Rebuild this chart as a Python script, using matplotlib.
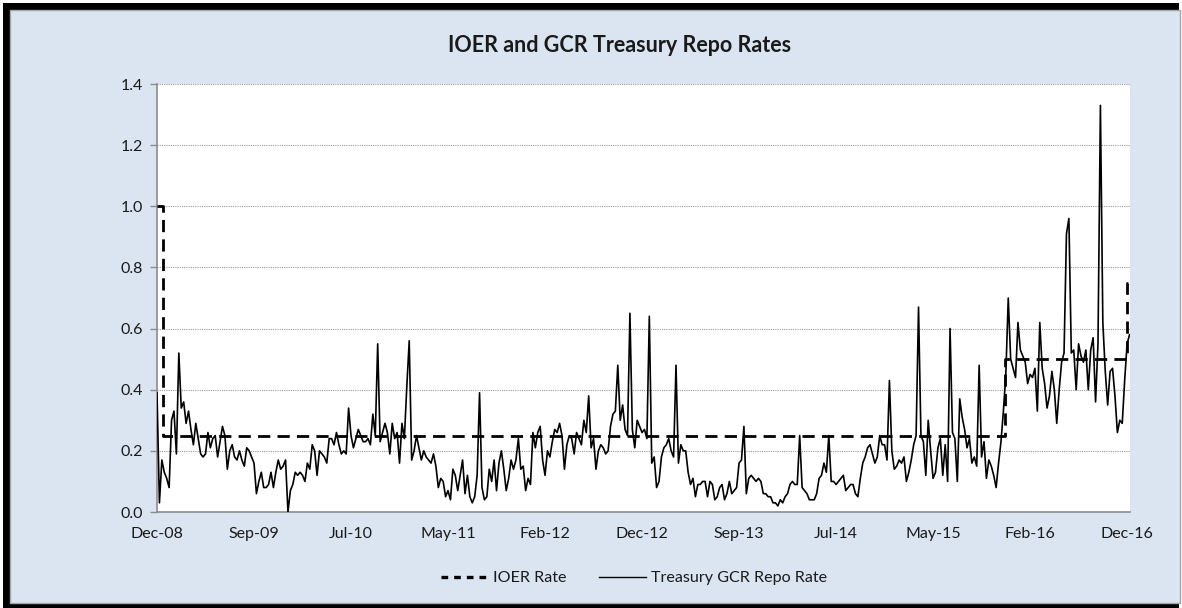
import numpy as np
import matplotlib
matplotlib.use("Agg")
import matplotlib.pyplot as plt
from matplotlib.patches import Rectangle
from matplotlib.lines import Line2D

plt.rcParams['font.family'] = ['Lato', 'DejaVu Sans']

# ---------------- data ----------------
title = "IOER and GCR Treasury Repo Rates"
tick_labels = ["Dec-08", "Sep-09", "Jul-10", "May-11", "Feb-12", "Dec-12",
               "Sep-13", "Jul-14", "May-15", "Feb-16", "Dec-16"]
tick_days = [0, 200, 400, 600, 800, 1000, 1200, 1400, 1600, 1800, 2000]  # trading-day index
step_days = 5  # spacing of GCR observations (trading days)

gcr_rate = [
    0.39, 0.03, 0.17, 0.13, 0.11, 0.08, 0.30, 0.33, 0.19, 0.52, 0.34, 0.36, 0.29, 0.33, 0.27, 0.22, 0.29, 0.24, 0.19, 0.18,
    0.19, 0.26, 0.21, 0.24, 0.25, 0.18, 0.23, 0.28, 0.25, 0.14, 0.20, 0.22, 0.18, 0.17, 0.20, 0.17, 0.15, 0.21, 0.20, 0.18,
    0.16, 0.06, 0.10, 0.13, 0.08, 0.08, 0.09, 0.13, 0.08, 0.13, 0.17, 0.14, 0.15, 0.17, 0.00, 0.07, 0.09, 0.13, 0.12, 0.13,
    0.12, 0.10, 0.16, 0.14, 0.22, 0.20, 0.12, 0.20, 0.19, 0.18, 0.16, 0.24, 0.24, 0.22, 0.26, 0.22, 0.19, 0.20, 0.19, 0.34,
    0.25, 0.21, 0.24, 0.27, 0.25, 0.23, 0.23, 0.24, 0.22, 0.32, 0.25, 0.55, 0.23, 0.26, 0.29, 0.26, 0.19, 0.29, 0.24, 0.26,
    0.16, 0.29, 0.24, 0.41, 0.56, 0.17, 0.20, 0.25, 0.21, 0.17, 0.20, 0.18, 0.17, 0.16, 0.19, 0.15, 0.08, 0.11, 0.10, 0.05,
    0.07, 0.04, 0.14, 0.12, 0.07, 0.12, 0.17, 0.06, 0.12, 0.05, 0.03, 0.05, 0.12, 0.39, 0.08, 0.04, 0.05, 0.14, 0.10, 0.17,
    0.07, 0.16, 0.20, 0.14, 0.07, 0.11, 0.17, 0.14, 0.17, 0.24, 0.14, 0.15, 0.07, 0.11, 0.09, 0.26, 0.21, 0.26, 0.28, 0.17,
    0.12, 0.20, 0.18, 0.23, 0.27, 0.26, 0.29, 0.25, 0.14, 0.22, 0.25, 0.24, 0.19, 0.26, 0.24, 0.22, 0.30, 0.26, 0.38, 0.21,
    0.24, 0.14, 0.20, 0.22, 0.21, 0.19, 0.20, 0.28, 0.32, 0.33, 0.48, 0.30, 0.35, 0.27, 0.25, 0.65, 0.27, 0.21, 0.30, 0.28,
    0.26, 0.27, 0.24, 0.64, 0.16, 0.18, 0.08, 0.10, 0.18, 0.21, 0.22, 0.24, 0.20, 0.18, 0.48, 0.16, 0.22, 0.20, 0.20, 0.13,
    0.09, 0.11, 0.05, 0.09, 0.09, 0.10, 0.10, 0.05, 0.10, 0.09, 0.04, 0.05, 0.08, 0.09, 0.04, 0.06, 0.10, 0.06, 0.07, 0.08,
    0.16, 0.17, 0.28, 0.06, 0.11, 0.12, 0.11, 0.10, 0.11, 0.10, 0.06, 0.06, 0.05, 0.05, 0.03, 0.03, 0.02, 0.04, 0.03, 0.05,
    0.06, 0.09, 0.10, 0.09, 0.09, 0.25, 0.08, 0.07, 0.06, 0.04, 0.04, 0.04, 0.06, 0.11, 0.12, 0.16, 0.13, 0.25, 0.10, 0.10,
    0.09, 0.10, 0.11, 0.12, 0.07, 0.08, 0.09, 0.09, 0.06, 0.05, 0.11, 0.16, 0.18, 0.21, 0.22, 0.19, 0.16, 0.18, 0.25, 0.22,
    0.22, 0.17, 0.43, 0.20, 0.14, 0.15, 0.17, 0.16, 0.18, 0.10, 0.13, 0.17, 0.22, 0.25, 0.67, 0.25, 0.23, 0.12, 0.30, 0.20,
    0.11, 0.13, 0.21, 0.24, 0.12, 0.22, 0.10, 0.60, 0.26, 0.24, 0.10, 0.37, 0.31, 0.27, 0.21, 0.24, 0.16, 0.18, 0.15, 0.48,
    0.18, 0.23, 0.11, 0.17, 0.15, 0.12, 0.08, 0.16, 0.23, 0.33, 0.45, 0.70, 0.50, 0.47, 0.44, 0.62, 0.53, 0.51, 0.49, 0.42,
    0.45, 0.44, 0.47, 0.33, 0.62, 0.47, 0.42, 0.34, 0.38, 0.46, 0.40, 0.29, 0.40, 0.49, 0.52, 0.91, 0.96, 0.52, 0.53, 0.40,
    0.55, 0.51, 0.49, 0.53, 0.40, 0.53, 0.57, 0.36, 0.55, 1.33, 0.62, 0.46, 0.35, 0.46, 0.47, 0.38, 0.26, 0.30, 0.29, 0.43,
    0.55, 0.58,
]

# IOER rate: step changes (trading-day index of change, new rate)
ioer_change_days = [0, 12, 1748, 2000]
ioer_rates = [1.00, 0.25, 0.50, 0.75]

x_end = 2006
y_ticks = [0.0, 0.2, 0.4, 0.6, 0.8, 1.0, 1.2, 1.4]

# ---------------- figure ----------------
W, H = 1182, 608
fig = plt.figure(figsize=(W / 100, H / 100), dpi=100, facecolor="white")

# outer frame
fig.add_artist(Rectangle((3 / W, 0), 1176 / W, 605 / H, transform=fig.transFigure,
                         facecolor="black", edgecolor="none", zorder=-20))
fig.add_artist(Rectangle((10 / W, 5 / H), 1170 / W, 593 / H, transform=fig.transFigure,
                         facecolor="#DBE5F1", edgecolor="#A6A6A6", linewidth=1.0, zorder=-10))

ax = fig.add_axes([157 / W, (H - 512) / H, (1130 - 157) / W, (512 - 84) / H])
ax.set_facecolor("white")

gx = np.arange(len(gcr_rate)) * step_days
ax.plot(gx, gcr_rate, color="black", linewidth=1.2, zorder=3)

ix = list(ioer_change_days) + [x_end]
iy = list(ioer_rates) + [ioer_rates[-1]]
ax.plot(ix, iy, drawstyle="steps-post", color="black", linewidth=2.0,
        dashes=(4.4, 2.6), zorder=4)

ax.set_xlim(0, x_end)
ax.set_ylim(0, 1.4)
ax.set_yticks(y_ticks)
ax.set_yticklabels([f"{v:.1f}" for v in y_ticks])
ax.set_xticks(tick_days)
ax.set_xticklabels(tick_labels)

ax.grid(axis="y", color="#9A9A9A", linestyle=(0, (1, 1)), linewidth=0.8, zorder=0)
ax.set_axisbelow(True)

for s in ["top", "right"]:
    ax.spines[s].set_visible(False)
for s in ["left", "bottom"]:
    ax.spines[s].set_color("#8C8C8C")
    ax.spines[s].set_linewidth(1.2)

ax.tick_params(axis="y", direction="out", length=5, width=1.0, color="#8C8C8C",
               labelsize=11.5, labelcolor="#1A1A1A", pad=5)
ax.tick_params(axis="x", length=0, labelsize=11.5, labelcolor="#1A1A1A", pad=11)

fig.text(620 / W, 1 - 45 / H, title, ha="center", va="center",
         fontsize=15.5, fontweight="bold", color="#1A1A1A")

handles = [Line2D([], [], color="black", linewidth=2.4, dashes=(2.0, 1.8)),
           Line2D([], [], color="black", linewidth=1.0)]
fig.legend(handles, ["IOER Rate", "Treasury GCR Repo Rate"],
           loc="center", bbox_to_anchor=(634 / W, 1 - 578 / H), ncol=2,
           frameon=False, fontsize=11.6, handlelength=2.9, handletextpad=0.35,
           columnspacing=2.0, labelcolor="#1A1A1A")

fig.savefig("out.png", dpi=100, facecolor=fig.get_facecolor())
